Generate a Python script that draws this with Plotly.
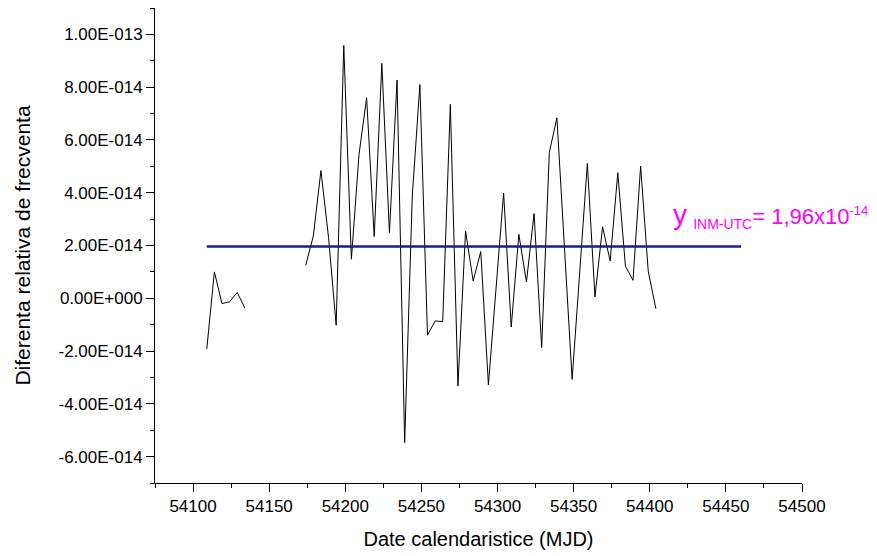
import numpy as np
import plotly.graph_objects as go

# MJD dates and relative frequency difference (units of 1e-14)
seg1_mjd = [54109, 54114, 54119, 54124, 54129, 54134]
seg1_val = [-1.93, 1.0, -0.2, -0.13, 0.22, -0.37]

seg2_mjd = list(range(54174, 54405, 5))
seg2_val = [1.25, 2.36, 4.84, 2.3, -1.02, 9.58, 1.48, 5.45, 7.6, 2.34,
            8.9, 2.49, 8.27, -5.47, 3.87, 8.1, -1.40, -0.86, -0.88, 7.35,
            -3.32, 2.55, 0.66, 1.77, -3.28, 0.4, 3.99, -1.09, 2.42, 0.62,
            3.21, -1.87, 5.52, 6.84, 1.9, -3.07, 1.0, 5.11, 0.05, 2.71,
            1.41, 4.76, 1.22, 0.68, 5.01, 1.03, -0.39]

mean_value = 1.96  # x1e-14
mean_mjd = [54109, 54460]

y_tickvals = [-6, -4, -2, 0, 2, 4, 6, 8, 10]
y_ticktext = ["-6.00E-014", "-4.00E-014", "-2.00E-014", "0.00E+000", "2.00E-014",
              "4.00E-014", "6.00E-014", "8.00E-014", "1.00E-013"]
x_tickvals = [54100, 54150, 54200, 54250, 54300, 54350, 54400, 54450, 54500]
x_ticktext = ["54100", "54150", "54200", "54250", "54300", "54350", "54400",
              "54450", "54500"]

scale = 1e-14
x_all = seg1_mjd + [None] + seg2_mjd
y_all = [v * scale for v in seg1_val] + [None] + [v * scale for v in seg2_val]

fig = go.Figure()
fig.add_trace(go.Scatter(x=x_all, y=y_all, mode="lines",
                         line=dict(color="black", width=1), connectgaps=False,
                         showlegend=False))
fig.add_trace(go.Scatter(x=mean_mjd, y=[mean_value * scale] * 2, mode="lines",
                         line=dict(color="#1a1a9c", width=2.5), showlegend=False))

font_family = "Liberation Sans, Arial, sans-serif"

label = ("<span style='font-size:28px'>y</span> "
         "<sub><span style='font-size:14px'>INM-UTC</span></sub>= 1,96x10"
         "<sup><span style='font-size:13px'>-14</span></sup>")
fig.add_annotation(x=54414, y=3.15 * scale, xref="x", yref="y",
                   xanchor="left", yanchor="middle", showarrow=False,
                   text=label,
                   font=dict(color="#ff00ff", size=22, family=font_family))

fig.update_xaxes(range=[54075, 54500], tickvals=x_tickvals, ticktext=x_ticktext,
                 ticks="outside", ticklen=8, tickwidth=1, tickcolor="black",
                 showline=True, linecolor="black", linewidth=1,
                 showgrid=False, zeroline=False, automargin=False,
                 minor=dict(dtick=25, tick0=54075, ticks="outside", ticklen=4,
                            tickcolor="black", showgrid=False),
                 tickfont=dict(size=17, color="black", family=font_family),
                 title=dict(text="Date calendaristice (MJD)",
                            font=dict(size=20, color="black", family=font_family),
                            standoff=16))
fig.update_yaxes(range=[-7 * scale, 11 * scale],
                 tickvals=[v * scale for v in y_tickvals], ticktext=y_ticktext,
                 ticks="outside", ticklen=8, tickwidth=1, tickcolor="black",
                 showline=True, linecolor="black", linewidth=1,
                 showgrid=False, zeroline=False, automargin=False,
                 minor=dict(dtick=1 * scale, tick0=-7 * scale, ticks="outside",
                            ticklen=4, tickcolor="black", showgrid=False),
                 tickfont=dict(size=17, color="black", family=font_family),
                 title=dict(text="Diferenta relativa de frecventa",
                            font=dict(size=21, color="black", family=font_family),
                            standoff=22))

fig.update_layout(width=869, height=548,
                  margin=dict(l=147, r=75, t=0, b=73),
                  paper_bgcolor="white", plot_bgcolor="white",
                  font=dict(family=font_family))

fig.write_html("out.html")
